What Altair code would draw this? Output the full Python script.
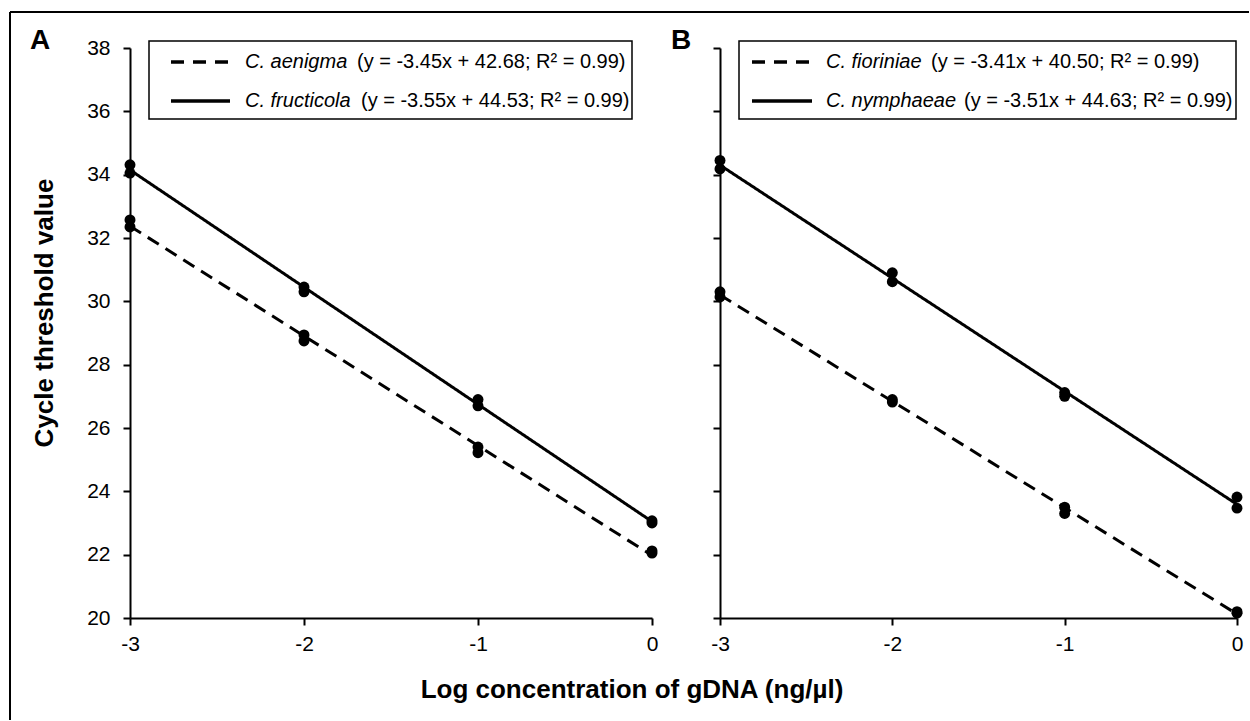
import altair as alt
import pandas as pd

# ---------------- data ----------------
x_levels = [-3, -3, -2, -2, -1, -1, 0, 0]
x_ticks = [-3, -2, -1, 0]
y_ticks = [20, 22, 24, 26, 28, 30, 32, 34, 36, 38]

a_names = ["C. aenigma", "C. fructicola"]
a_eqs = ["(y = -3.45x + 42.68;  R\u00b2 = 0.99)", "(y = -3.55x + 44.53;  R\u00b2 = 0.99)"]
a_aenigma = [32.57, 32.35, 28.94, 28.75, 25.40, 25.22, 22.12, 22.05]
a_fructicola = [34.31, 34.05, 30.45, 30.30, 26.90, 26.70, 23.07, 23.00]

b_names = ["C. fioriniae", "C. nymphaeae"]
b_eqs = ["(y = -3.41x + 40.50;  R\u00b2 = 0.99)", "(y = -3.51x + 44.63;  R\u00b2 = 0.99)"]
b_fioriniae = [30.30, 30.14, 26.90, 26.82, 23.50, 23.30, 20.20, 20.15]
b_nymphaeae = [34.45, 34.18, 30.90, 30.62, 27.12, 27.00, 23.82, 23.47]

y_title = "Cycle threshold value"
x_title = "Log concentration of gDNA (ng/\u00b5l)"

FONT = "Liberation Sans"
TICK_FS = 21
LEG_FS = 20
TITLE_FS = 26
W_A, W_B, H = 522, 517, 570


def make_df(names, dashed_vals, solid_vals):
    rows = []
    for x, v in zip(x_levels, dashed_vals):
        rows.append({"x": x, "ct": v, "species": names[0]})
    for x, v in zip(x_levels, solid_vals):
        rows.append({"x": x, "ct": v, "species": names[1]})
    return pd.DataFrame(rows)


def one():
    return alt.Data(values=[{"k": 1}])


def panel(names, eqs, dashed_vals, solid_vals, width, show_labels, label, label_x,
          box, dash_x, name_x, eq_x, extra=None):
    df = make_df(names, dashed_vals, solid_vals)
    xenc = alt.X("x:Q", scale=alt.Scale(domain=[-3, 0], nice=False, zero=False),
                 axis=alt.Axis(values=x_ticks, title=None, grid=False, tickSize=7,
                               labelPadding=8, labelFontSize=TICK_FS, labelFont=FONT,
                               labelColor="black", domainColor="black", tickColor="black",
                               domainWidth=2, tickWidth=2, labelFlush=False,
                               labelExpr="replace(datum.label, '\u2212', '-')"))
    yenc = alt.Y("ct:Q", scale=alt.Scale(domain=[20, 38], nice=False, zero=False),
                 axis=alt.Axis(values=y_ticks, title=None, grid=False, tickSize=7,
                               labels=show_labels, labelPadding=13, labelFontSize=TICK_FS,
                               labelFont=FONT, labelColor="black", domainColor="black",
                               tickColor="black", domainWidth=2, tickWidth=2,
                               labelOverlap=False))
    base = alt.Chart(df)
    lines = base.transform_regression("x", "ct", groupby=["species"]).mark_line(
        color="black", strokeWidth=3).encode(
        x=xenc, y=yenc,
        strokeDash=alt.StrokeDash("species:N", scale=alt.Scale(domain=names, range=[[13, 8], [1, 0]]),
                                  legend=None))
    pts = base.mark_circle(size=120, color="black", opacity=1).encode(x=xenc, y=yenc)

    layers = [lines, pts]
    # legend box
    bx0, bx1, by0, by1 = box
    layers.append(alt.Chart(one()).mark_rect(fill="white", stroke="black", strokeWidth=1.5).encode(
        x=alt.value(bx0), x2=alt.value(bx1), y=alt.value(by0), y2=alt.value(by1)))
    rows_y = [14, 53]
    for i in range(2):
        layers.append(alt.Chart(one()).mark_rule(color="black", strokeWidth=3.5,
                                                 strokeDash=[13, 9] if i == 0 else [1, 0]).encode(
            x=alt.value(dash_x[0]), x2=alt.value(dash_x[1]), y=alt.value(rows_y[i])))
        layers.append(alt.Chart(one()).mark_text(text=names[i], font=FONT, fontSize=LEG_FS,
                                                 fontStyle="italic", align="left", baseline="middle",
                                                 color="black").encode(
            x=alt.value(name_x), y=alt.value(rows_y[i])))
        layers.append(alt.Chart(one()).mark_text(text=eqs[i], font=FONT, fontSize=LEG_FS,
                                                 align="left", baseline="middle", color="black").encode(
            x=alt.value(eq_x[i]), y=alt.value(rows_y[i])))
    # panel label
    layers.append(alt.Chart(one()).mark_text(text=label, font=FONT, fontSize=28, fontWeight="bold",
                                             align="center", baseline="middle", color="black").encode(
        x=alt.value(label_x), y=alt.value(-7)))
    if extra:
        layers.extend(extra)
    return alt.layer(*layers).properties(width=width, height=H)


extra_a = [
    # outer frame (top and left edges)
    alt.Chart(one()).mark_rule(color="black", strokeWidth=2).encode(
        x=alt.value(-120), x2=alt.value(1119), y=alt.value(-36)),
    alt.Chart(one()).mark_rule(color="black", strokeWidth=2).encode(
        x=alt.value(-120), y=alt.value(-36), y2=alt.value(672)),
    # axis titles
    alt.Chart(one()).mark_text(text=y_title, font=FONT, fontSize=TITLE_FS, fontWeight="bold",
                               angle=270, align="center", baseline="middle", color="black").encode(
        x=alt.value(-85), y=alt.value(265)),
    alt.Chart(one()).mark_text(text=x_title, font=FONT, fontSize=TITLE_FS, fontWeight="bold",
                               align="center", baseline="middle", color="black").encode(
        x=alt.value(502), y=alt.value(642)),
]

pa = panel(a_names, a_eqs, a_aenigma, a_fructicola, W_A, True, "A", -90,
           (19, 502, -7, 71), (41, 100), 115, [227, 231], extra_a)
pb = panel(b_names, b_eqs, b_fioriniae, b_nymphaeae, W_B, False, "B", -39,
           (19, 516, -7, 71), (32, 92), 106, [211, 244])

chart = alt.hconcat(pa, pb, spacing=68, bounds="flush").properties(
    padding={"left": 9, "top": 11, "right": 0, "bottom": 0}
).configure_view(stroke=None)

chart.save("out.html", embed_options={"renderer": "svg", "actions": False})
